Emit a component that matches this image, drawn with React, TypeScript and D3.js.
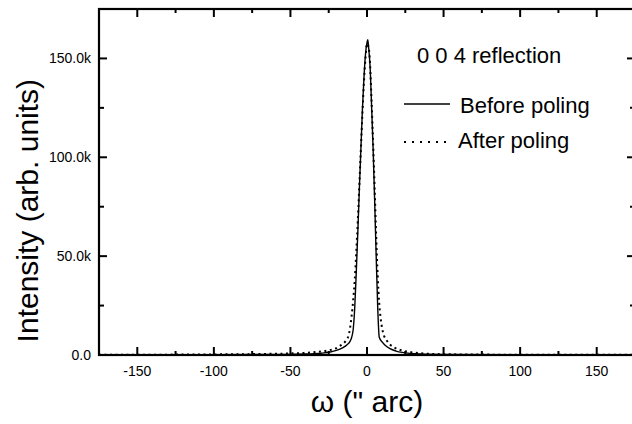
import React from "react";
import * as d3 from "d3";

// omega in arc-seconds, intensity in thousands of counts
const beforeOmega = [-175, -100, -60, -40, -30, -24, -20, -16, -13, -11, -10, -9, -8, -7, -6, -5, -4, -3, -2, -1, 0, 0.5, 1, 2, 3, 4, 5, 6, 7, 8, 10, 12, 15, 19, 23, 28, 35, 50, 100, 175];
const beforeIntensity = [0.1, 0.15, 0.3, 0.5, 0.9, 1.5, 2.3, 3.6, 5.2, 7.0, 9, 13, 24, 42, 62, 84, 104, 124, 140, 152, 158, 159.5, 156, 146, 126, 104, 78, 50, 24, 9, 6.5, 4.8, 3.2, 2.0, 1.3, 0.8, 0.5, 0.3, 0.15, 0.1];

const afterOmega = [-175, -100, -70, -50, -40, -30, -25, -20, -17, -14, -12, -11, -10, -9, -8, -7, -6, -5, -4, -3, -2, -1, 0, 1, 2, 3, 4, 5, 6, 7, 8, 9, 10, 11, 13, 15, 18, 23, 28, 35, 45, 60, 100, 175];
const afterIntensity = [0.1, 0.3, 0.5, 0.8, 1.1, 1.8, 2.4, 3.5, 5, 7, 10, 14, 20, 28, 38, 52, 68, 86, 104, 122, 138, 150, 157.5, 156, 147, 128, 107, 84, 60, 40, 26, 18, 13, 10, 7.2, 5.3, 3.7, 2.3, 1.5, 0.9, 0.5, 0.3, 0.15, 0.1];

const xTicks = [-150, -100, -50, 0, 50, 100, 150];
const xMinorTicks = [-175, -125, -75, -25, 25, 75, 125, 175];
const yTicks = [0, 50, 100, 150];
const yTickLabels = ["0.0", "50.0k", "100.0k", "150.0k"];
const yMinorTicks = [25, 75, 125, 175];

const legendTitle = "0 0 4 reflection";
const seriesNames = ["Before poling", "After poling"];

const W = 632;
const H = 424;
const left = 99;
const right = 635;
const top = 9;
const bottom = 355;
const font = "'Liberation Sans', Arial, Helvetica, sans-serif";

export default function App() {
  const x = d3.scaleLinear().domain([-175, 175]).range([left, right]);
  const y = d3.scaleLinear().domain([0, 175]).range([bottom, top]);

  const line = d3
    .line<[number, number]>()
    .x((d) => x(d[0]))
    .y((d) => y(d[1]))
    .curve(d3.curveMonotoneX);

  const before = beforeOmega.map((o, i) => [o, beforeIntensity[i]] as [number, number]);
  const after = afterOmega.map((o, i) => [o, afterIntensity[i]] as [number, number]);

  return (
    <svg
      width={W}
      height={H}
      style={{ position: "absolute", left: 0, top: 0, background: "#fff" }}
      fontFamily={font}
    >
      <defs>
        <clipPath id="plot">
          <rect x={left} y={top} width={right - left} height={bottom - top} />
        </clipPath>
      </defs>

      {/* curves */}
      <g clipPath="url(#plot)" fill="none" stroke="#000">
        <path d={line(before) || ""} strokeWidth={1.4} />
        <path d={line(after) || ""} strokeWidth={2} strokeDasharray="2,3.5" />
      </g>

      {/* frame */}
      <rect x={left} y={top} width={right - left} height={bottom - top} fill="none" stroke="#000" strokeWidth={2.2} />

      {/* ticks, all pointing inward */}
      <g stroke="#000" strokeWidth={2}>
        {xTicks.map((t) => (
          <g key={"xt" + t}>
            <line x1={x(t)} x2={x(t)} y1={bottom} y2={bottom - 8} />
            <line x1={x(t)} x2={x(t)} y1={top} y2={top + 8} />
          </g>
        ))}
        {xMinorTicks.map((t) => (
          <g key={"xm" + t}>
            <line x1={x(t)} x2={x(t)} y1={bottom} y2={bottom - 4} />
            <line x1={x(t)} x2={x(t)} y1={top} y2={top + 4} />
          </g>
        ))}
        {yTicks.map((t) => (
          <g key={"yt" + t}>
            <line x1={left} x2={left + 8} y1={y(t)} y2={y(t)} />
            <line x1={right} x2={right - 8} y1={y(t)} y2={y(t)} />
          </g>
        ))}
        {yMinorTicks.map((t) => (
          <g key={"ym" + t}>
            <line x1={left} x2={left + 5} y1={y(t)} y2={y(t)} />
            <line x1={right} x2={right - 5} y1={y(t)} y2={y(t)} />
          </g>
        ))}
      </g>

      {/* tick labels */}
      <g fontSize={14} fill="#000">
        {xTicks.map((t) => (
          <text key={"xl" + t} x={x(t)} y={bottom + 21} textAnchor="middle">
            {t}
          </text>
        ))}
        {yTicks.map((t, i) => (
          <text key={"yl" + t} x={left - 8} y={y(t) + 5} textAnchor="end">
            {yTickLabels[i]}
          </text>
        ))}
      </g>

      {/* axis titles */}
      <text x={x(0)} y={412} fontSize={30} textAnchor="middle">
        ω (" arc)
      </text>
      <text
        transform={`translate(38, ${y(73)}) rotate(-90)`}
        fontSize={30}
        textAnchor="middle"
      >
        Intensity (arb. units)
      </text>

      {/* legend */}
      <g fontSize={22} fill="#000">
        <text x={417} y={63}>{legendTitle}</text>
        <line x1={404} x2={450} y1={104} y2={104} stroke="#000" strokeWidth={1.4} />
        <text x={460} y={113}>{seriesNames[0]}</text>
        <line x1={404} x2={450} y1={142} y2={142} stroke="#000" strokeWidth={2} strokeDasharray="2,6" />
        <text x={458} y={148}>{seriesNames[1]}</text>
      </g>
    </svg>
  );
}
